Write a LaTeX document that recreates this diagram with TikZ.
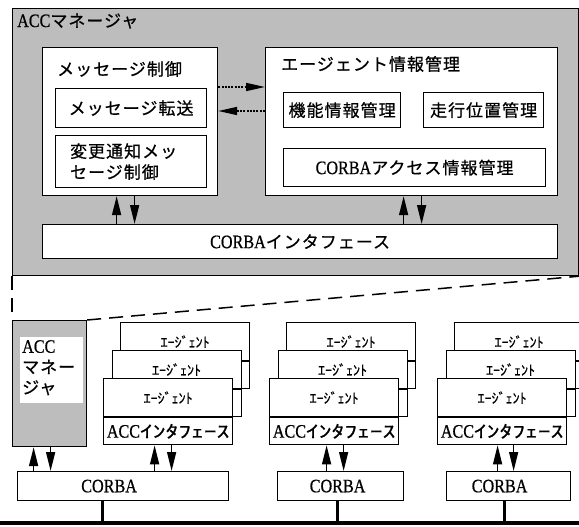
\documentclass[tikz,border=0pt]{standalone}
\usepackage{fontspec}
\setmainfont{Liberation Serif}[FakeStretch=0.85, FakeBold=0.6]
\newfontfamily\jpf[LetterSpace=6, FakeBold=0.6]{Noto Sans CJK JP}
\newfontfamily\jph[FakeBold=0.6]{Noto Sans CJK JP}
\newfontfamily\jpw[FakeStretch=1.5, FakeBold=0.6]{Noto Sans CJK JP}
\usetikzlibrary{arrows.meta}
\newcommand\J[1]{{\fontsize{17}{20}\selectfont\jpf #1}}
\newcommand\AG{{\fontsize{14}{16}\selectfont\jph ｴｰｼﾞｪﾝﾄ}}
\newcommand\IF{{\fontsize{17}{18}\selectfont\jpw ｲﾝﾀﾌｪｰｽ}}
\definecolor{stip}{gray}{0.74}
\tikzset{
  box/.style={draw, line width=1.2pt, fill=white, inner sep=0pt, font=\fontsize{19}{21}\selectfont},
  arr/.style={line width=1.5pt, -{Triangle[length=19pt,width=9pt]}},
  darr/.style={line width=1.6pt, dash pattern=on 2pt off 1.3pt, -{Triangle[length=19pt,width=8pt]}},
  zoomdash/.style={line width=1.5pt, dash pattern=on 14pt off 8pt},
  lbl/.style={inner sep=0pt, anchor=west, font=\fontsize{19}{21}\selectfont},
  ctr/.style={inner sep=0pt, font=\fontsize{19}{21}\selectfont},
}
\newcommand\agentstack[2]{%
  \node[box, anchor=north west, minimum width=129pt, minimum height=38pt] (#1bu) at (#2+17,322) {\AG};
  \node[box, anchor=north, minimum width=129pt, minimum height=27pt] (#1bl) at (#1bu.south) {};
  \node[box, anchor=north west, minimum width=129pt, minimum height=38pt] (#1mu) at (#2+8.5,350) {\AG};
  \node[box, anchor=north, minimum width=129pt, minimum height=27pt] (#1ml) at (#1mu.south) {};
  \node[box, anchor=north west, minimum width=129pt, minimum height=38pt] (#1fu) at (#2,378) {\AG};
  \node[box, anchor=north, minimum width=129pt, minimum height=27pt] (#1fl) at (#1fu.south) {ACC\IF};
}
\begin{document}
\begin{tikzpicture}[x=1pt,y=-1pt]
\useasboundingbox (0,0) rectangle (579,527);
% ---------- upper detail frame ----------
\node[draw, line width=1.2pt, fill=stip, anchor=north west, minimum width=566pt, minimum height=267pt, inner sep=0pt] (tf) at (12,8) {};
\node[lbl] (tfl) at (17,21) {ACC\J{マネージャ}};
% message control
\node[box, anchor=north west, minimum width=175pt, minimum height=148pt] (mc) at (42,47) {};
\node[lbl] (mcl) at (57,69) {\J{メッセージ制御}};
\node[box, anchor=north west, minimum width=151pt, minimum height=39pt] (mt) at (55,88) {\J{メッセージ転送}};
\node[box, anchor=north west, minimum width=151pt, minimum height=52pt, align=left, text width=140pt] (hn) at (55,135) {\hspace*{9pt}\J{変更通知メッ}\\\hspace*{9pt}\J{セージ制御}};
% agent info
\node[box, anchor=north west, minimum width=292pt, minimum height=148pt] (ai) at (265,47) {};
\node[lbl] (ail) at (281,64) {\J{エージェント情報管理}};
\node[box, anchor=north west, minimum width=117pt, minimum height=35pt] (ki) at (283,92) {\J{機能情報管理}};
\node[box, anchor=north west, minimum width=120pt, minimum height=35pt] (so) at (423,92) {\J{走行位置管理}};
\node[box, anchor=north west, minimum width=262pt, minimum height=38pt] (ca) at (283,148) {CORBA\J{アクセス情報管理}};
% CORBA interface
\node[box, anchor=north west, minimum width=515pt, minimum height=34pt] (ci) at (42,224) {CORBA\J{インタフェース}};
% arrows in upper frame
\draw[darr] ([yshift=-40pt]mc.north east) -- ([yshift=-40pt]mc.north east -| ai.west);
\draw[darr] ([yshift=-64pt]ai.north west) -- ([yshift=-64pt]ai.north west -| mc.east);
\draw[arr] ([xshift=-13.5pt]mc.south |- ci.north) -- ([xshift=-13.5pt]mc.south);
\draw[arr] ([xshift=4.5pt]mc.south) -- ([xshift=4.5pt]mc.south |- ci.north);
\draw[arr] ([xshift=-8pt]ai.south |- ci.north) -- ([xshift=-8pt]ai.south);
\draw[arr] ([xshift=10pt]ai.south) -- ([xshift=10pt]ai.south |- ci.north);
% ---------- lower system view ----------
\node[draw, line width=1.2pt, fill=stip, anchor=north west, minimum width=74pt, minimum height=126pt, inner sep=0pt] (acc) at (12,320) {};
\fill[white] (20,337) rectangle (83,403);
\node[inner sep=0pt, anchor=north west, align=left, font=\fontsize{19}{20.5}\selectfont] (accl) at (22,340) {ACC\\\J{マネー}\\\J{ジャ}};
\draw[zoomdash] (tf.south west) -- (acc.north west);
\draw[zoomdash] (acc.north east) -- (tf.south east);
\agentstack{a}{103}
\agentstack{b}{269}
\agentstack{c}{437}
\node[box, anchor=north west, minimum width=211pt, minimum height=29pt] (c1) at (17,471) {};
\node[ctr] (c1l) at ([xshift=-14pt]c1.center) {CORBA};
\node[box, anchor=north west, minimum width=126pt, minimum height=29pt] (c2) at (277,471) {};
\node[ctr] (c2l) at ([xshift=-3pt]c2.center) {CORBA};
\node[box, anchor=north west, minimum width=124pt, minimum height=29pt] (c3) at (446,471) {};
\node[ctr] (c3l) at ([xshift=-9pt]c3.center) {CORBA};
\draw[arr] ([xshift=-16pt]acc.south |- c1.north) -- ([xshift=-16pt]acc.south);
\draw[arr] ([xshift=1pt]acc.south) -- ([xshift=1pt]acc.south |- c1.north);
\draw[arr] ([xshift=-13.5pt]afl.south |- c1.north) -- ([xshift=-13.5pt]afl.south);
\draw[arr] ([xshift=3.5pt]afl.south) -- ([xshift=3.5pt]afl.south |- c1.north);
\draw[arr] ([xshift=-7.5pt]bfl.south |- c2.north) -- ([xshift=-7.5pt]bfl.south);
\draw[arr] ([xshift=9.5pt]bfl.south) -- ([xshift=9.5pt]bfl.south |- c2.north);
\draw[arr] ([xshift=-4.5pt]cfl.south |- c3.north) -- ([xshift=-4.5pt]cfl.south);
\draw[arr] ([xshift=11.5pt]cfl.south) -- ([xshift=11.5pt]cfl.south |- c3.north);
% bus
\coordinate (busL) at (0,523);
\coordinate (busR) at (579,523);
\draw[line width=4pt] (busL) -- (busR);
\draw[line width=3pt] ([xshift=-20.5pt]c1.south) -- ([xshift=-20.5pt]c1.south |- busL);
\draw[line width=3pt] ([xshift=-3pt]c2.south) -- ([xshift=-3pt]c2.south |- busL);
\draw[line width=3pt] ([xshift=-4pt]c3.south) -- ([xshift=-4pt]c3.south |- busL);
\end{tikzpicture}
\end{document}
